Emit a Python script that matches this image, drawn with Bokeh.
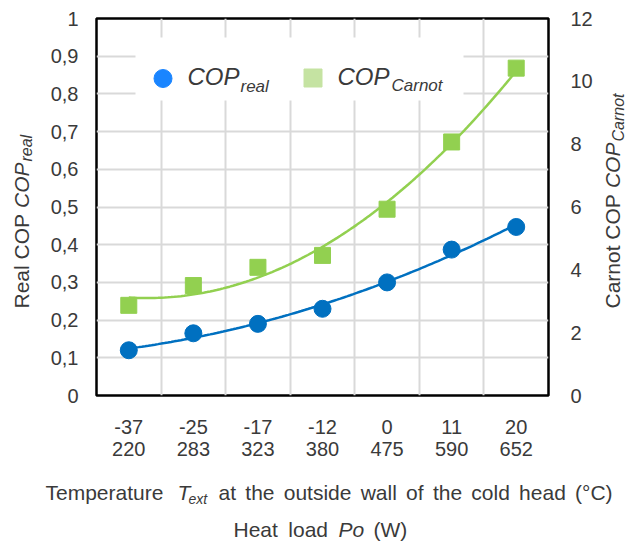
import math
import numpy as np
from bokeh.plotting import figure
from bokeh.layouts import row, column
from bokeh.models import (Range1d, LinearAxis, FixedTicker, Label, BoxAnnotation,
                          CustomJSTickFormatter)
from bokeh.embed import file_html
from bokeh.resources import INLINE

# ---------------- data ----------------
temps = ["-37", "-25", "-17", "-12", "0", "11", "20"]
loads = ["220", "283", "323", "380", "475", "590", "652"]
cop_real = [0.12, 0.165, 0.19, 0.23, 0.30, 0.387, 0.447]
cop_carnot = [2.87, 3.5, 4.08, 4.46, 5.93, 8.07, 10.42]
left_ticks = [0, 0.1, 0.2, 0.3, 0.4, 0.5, 0.6, 0.7, 0.8, 0.9, 1.0]
right_ticks = [0, 2, 4, 6, 8, 10, 12]

FONT = "Liberation Sans"
TXT = "#3a3a3a"
BLUE = "#0070c0"
GREEN = "#92d050"

# layout (page pixels)
L_W = 40
M_LEFT = 56
FRAME_W, FRAME_H = 452, 377
M_RIGHT = 50
M_TOP = 18
M_BOTTOM = 84
R_W = 31
TOP_H = M_TOP + FRAME_H + M_BOTTOM      # 479
B_H = 66
TOTAL_W = L_W + M_LEFT + FRAME_W + M_RIGHT + R_W   # 629

FX0 = L_W + M_LEFT      # 96
FY1 = M_TOP + FRAME_H   # 395
BASE_K = 0.38           # rendered baseline sits this fraction of size lower

xs = list(range(1, len(temps) + 1))

p = figure(frame_width=FRAME_W, frame_height=FRAME_H,
           min_border_left=M_LEFT, min_border_right=M_RIGHT,
           min_border_top=M_TOP, min_border_bottom=M_BOTTOM,
           x_range=Range1d(0.5, len(temps) + 0.5), y_range=Range1d(0, 1),
           output_backend="svg", toolbar_location=None)
p.extra_y_ranges = {"r": Range1d(0, 12)}
p.outline_line_color = "black"
p.outline_line_width = 2.5

p.xgrid.ticker = FixedTicker(ticks=[i + 0.5 for i in xs[:-1]])
p.ygrid.ticker = FixedTicker(ticks=left_ticks)
for g in (p.xgrid, p.ygrid):
    g.grid_line_color = "#d9d9d9"
    g.grid_line_width = 2


def style_axis(ax, standoff):
    ax.axis_line_color = None
    ax.major_tick_line_color = None
    ax.minor_tick_line_color = None
    ax.major_tick_out = 0
    ax.major_tick_in = 0
    ax.major_label_text_font = FONT
    ax.major_label_text_font_size = "20px"
    ax.major_label_text_color = TXT
    ax.major_label_standoff = standoff


xa = p.xaxis[0]
xa.ticker = FixedTicker(ticks=xs)
xa.major_label_overrides = {x: f"{t}\n{l}" for x, t, l in zip(xs, temps, loads)}
style_axis(xa, 20)
xa.major_label_text_line_height = 1.0

ya = p.yaxis[0]
ya.ticker = FixedTicker(ticks=left_ticks)
ya.formatter = CustomJSTickFormatter(code="""
var s = tick.toFixed(1).replace('.', ',');
return s.endsWith(',0') ? s.slice(0, -2) : s;
""")
style_axis(ya, 18)

ra = LinearAxis(y_range_name="r", ticker=FixedTicker(ticks=right_ticks))
style_axis(ra, 22)
p.add_layout(ra, "right")


# page pixel -> main-plot data coords (layout positions only)
def dx(px):
    return 0.5 + (px - FX0) * len(temps) / FRAME_W


def dy(py):
    return (FY1 - py) / FRAME_H


# legend background (covers the grid)
p.add_layout(BoxAnnotation(left=dx(135), right=dx(463), top=dy(37), bottom=dy(100),
                           fill_color="white", fill_alpha=1.0, line_alpha=0,
                           level="underlay"))

# trend lines (2nd order polynomial fit of the data)
xf = np.linspace(1, len(temps), 120)
fr = np.polyval(np.polyfit(xs, cop_real, 2), xf)
fc = np.polyval(np.polyfit(xs, cop_carnot, 2), xf)
p.line(xf, fc, line_color=GREEN, line_width=2.5, y_range_name="r")
p.line(xf, fr, line_color=BLUE, line_width=2.5)
p.scatter(xs, cop_carnot, marker="square", size=16, fill_color=GREEN,
          line_color=GREEN, y_range_name="r")
p.scatter(xs, cop_real, marker="circle", size=17, fill_color=BLUE, line_color=BLUE)

# legend swatches
p.scatter([dx(162.5)], [dy(78)], marker="circle", size=18,
          fill_color="#1a85ff", line_color="#1a85ff")
p.scatter([dx(312.5)], [dy(77.5)], marker="square", size=18,
          fill_color="#c5e3a2", line_color="#c5e3a2")


def mk_label(fig, text, x, y, size, italic=False, angle=0.0):
    fig.add_layout(Label(x=x, y=y, text=text, text_font=FONT,
                         text_font_size=f"{size}px",
                         text_font_style="italic" if italic else "normal",
                         text_color=TXT, text_align="left",
                         text_baseline="alphabetic", angle=angle))


def lab(text, px, py, size, italic=False):
    mk_label(p, text, dx(px), dy(py - BASE_K * size), size, italic)


lab("COP", 187, 85, 24, True)
lab("real", 240, 92, 17, True)
lab("COP", 337, 85, 24, True)
lab("Carnot", 391, 91, 17, True)


def blank(w, h, yr):
    f = figure(width=w, height=h, x_range=Range1d(0, w), y_range=yr,
               min_border=0, x_axis_location=None, y_axis_location=None,
               output_backend="svg", toolbar_location=None)
    f.grid.visible = False
    f.outline_line_color = None
    return f


A = math.pi / 2


def vlab(fig, x0, text, bx, sy, size, italic=False):
    # rotated text: bx = baseline x (page), sy = start y (page, text runs upward)
    mk_label(fig, text, bx - BASE_K * size - x0, FY1 - sy, size, italic, A)


# side strips: their frames line up with the main frame (page y 18..395)
L = blank(L_W, TOP_H, Range1d(0, FRAME_H))
vlab(L, 0, "Real COP", 28.5, 308, 21)
vlab(L, 0, "COP", 28.5, 207.5, 21, True)
vlab(L, 0, "real", 32.5, 161, 16, True)

RX0 = TOTAL_W - R_W
R = blank(R_W, TOP_H, Range1d(0, FRAME_H))
vlab(R, RX0, "Carnot COP", 620, 308, 21)
vlab(R, RX0, "COP", 620, 187.6, 21, True)
vlab(R, RX0, "Carnot", 624, 141, 16, True)

# bottom strip (page y TOP_H..TOP_H+B_H)
B = blank(TOTAL_W, B_H, Range1d(0, B_H))


def blab(text, px, py, size, italic=False):
    mk_label(B, text, px, TOP_H + B_H - (py - BASE_K * size), size, italic)


blab("Temperature", 45, 500, 21)
blab("T", 177, 500, 21, True)
blab("ext", 188, 504, 14, True)
for w, px in [("at", 218), ("the", 244.8), ("outside", 283.2), ("wall", 360.2),
              ("of", 405.6), ("the", 432.4), ("cold", 470.8), ("head", 518.6),
              ("(°C)", 574.5)]:
    blab(w, px, 500, 21)

blab("Heat", 233, 537, 21)
blab("load", 287.8, 537, 21)
blab("Po", 338, 537, 21, True)
blab("(W)", 373, 537, 21)

layout = column(row(L, p, R), B)
open("out.html", "w").write(file_html(layout, INLINE))
